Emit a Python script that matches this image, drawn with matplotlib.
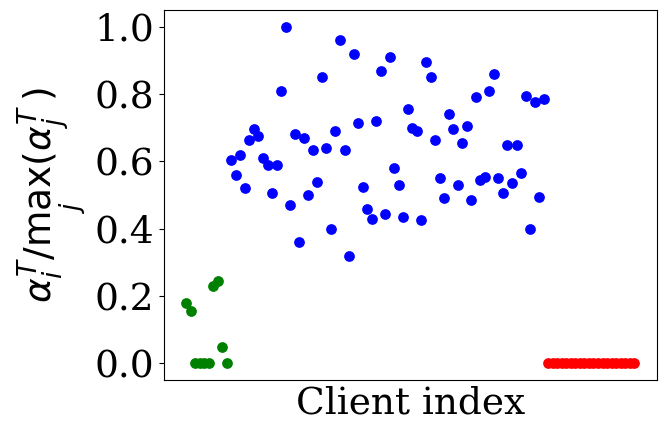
import matplotlib
matplotlib.use("Agg")
import matplotlib.pyplot as plt
import numpy as np

green = [0.18, 0.155, 0, 0, 0, 0, 0.23, 0.245, 0.05, 0]
blue = [0.605, 0.56, 0.62, 0.52, 0.665, 0.695, 0.675, 0.61, 0.59, 0.505,
        0.59, 0.81, 1.0, 0.47, 0.68, 0.36, 0.67, 0.50, 0.635, 0.54,
        0.85, 0.64, 0.40, 0.69, 0.96, 0.635, 0.32, 0.92, 0.715, 0.525,
        0.46, 0.43, 0.72, 0.87, 0.445, 0.91, 0.58, 0.53, 0.435, 0.755,
        0.70, 0.69, 0.425, 0.895, 0.85, 0.665, 0.55, 0.49, 0.74, 0.695,
        0.53, 0.655, 0.705, 0.485, 0.79, 0.545, 0.555, 0.81, 0.86, 0.55,
        0.505, 0.65, 0.535, 0.65, 0.565, 0.795, 0.40, 0.775, 0.495, 0.785]
red = [0.0] * 20

plt.rcParams['font.family'] = 'DejaVu Serif'
plt.rcParams['mathtext.fontset'] = 'dejavusans'
fig, ax = plt.subplots(figsize=(6.68, 4.32), dpi=100)
n1, n2 = len(green), len(blue)
ax.scatter(np.arange(n1), green, color='green', s=45)
ax.scatter(np.arange(n1, n1 + n2), blue, color='blue', s=45)
ax.scatter(np.arange(n1 + n2, n1 + n2 + len(red)), red, color='red', s=45)
ax.set_xticks([])
ax.set_yticks([0, 0.2, 0.4, 0.6, 0.8, 1.0])
ax.tick_params(axis='y', labelsize=27)
ax.set_xlabel('Client index', fontsize=27)
ax.set_ylabel(r'$\alpha_i^T/\max_j(\alpha_j^T)$', fontsize=27)
fig.subplots_adjust(left=0.245, right=0.983, top=0.977, bottom=0.12)
fig.savefig('out.png')
